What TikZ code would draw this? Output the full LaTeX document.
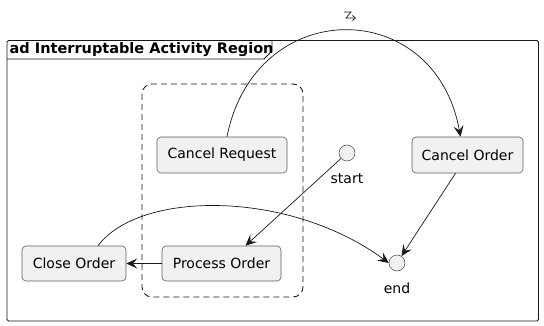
\documentclass[tikz,border=0pt]{standalone}
\usepackage{fontspec}
\setmainfont{DejaVu Sans}
\usetikzlibrary{arrows.meta}
\definecolor{boxfill}{HTML}{F1F1F1}
\definecolor{boxline}{HTML}{181818}
\tikzset{
  act/.style={draw=boxline!70, line width=0.6pt, fill=boxfill, rounded corners=4pt, inner sep=0pt, minimum height=36pt, font=\fontsize{14}{16}\selectfont},
  pt/.style={circle, draw=boxline!80, line width=0.5pt, fill=boxfill, minimum size=16pt, inner sep=0pt},
  lbl/.style={font=\fontsize{14}{16}\selectfont},
  flow/.style={draw=boxline, line width=0.7pt, -{Stealth[length=11pt,width=10pt,inset=4.5pt]}},
}
\begin{document}
\begin{tikzpicture}[x=1pt,y=-1pt]
\useasboundingbox (0,0) rectangle (544,326);
% frame
\draw[line width=0.9pt, boxline, rounded corners=1.5pt] (7,40.5) rectangle (538.5,321);
\draw[line width=0.9pt, boxline] (7,59) -- (264,59) -- (272,51) -- (272,40.5);
\node[anchor=west, font=\bfseries\fontsize{14.5}{16}\selectfont, inner sep=0pt] (title) at (9.5,50) {ad Interruptable Activity Region};
% interruptible region
\draw[dashed, dash pattern=on 6pt off 4pt, line width=0.9pt, boxline, rounded corners=10pt] (142,84) rectangle (303,297);
% nodes
\node[act, minimum width=130pt] (cr) at (222,155) {Cancel Request};
\node[act, minimum width=119pt, minimum height=35pt] (po) at (221.5,263.5) {Process Order};
\node[act, minimum width=104pt, minimum height=35pt] (clo) at (74,263.5) {Close Order};
\node[act, minimum width=111pt] (co) at (467.5,155) {Cancel Order};
\node[pt] (start) at (347,153) {};
\node[lbl, anchor=north, inner sep=0pt] (startl) at (347,173) {start};
\node[pt] (end) at (397,263) {};
\node[lbl, anchor=north, inner sep=0pt] (endl) at (397,283) {end};
% connectors
\draw[flow] ([xshift=5pt]cr.north) .. controls (255,-5) and (435,-5) .. ([xshift=-7pt]co.north);
\draw[flow] (start) -- ([xshift=24pt]po.north);
\draw[flow] (po.west) -- (clo.east);
\draw[flow] ([xshift=24pt]clo.north) .. controls (140,190) and (290,190) .. (end.west);
\draw[flow] ([xshift=-12pt]co.south) -- (end);
% interrupt glyph
\draw[line width=0.7pt, boxline, -{Straight Barb[length=3pt,width=5pt]}] (344,12) -- (351,12) -- (346,18) -- (356,18);
\end{tikzpicture}
\end{document}
